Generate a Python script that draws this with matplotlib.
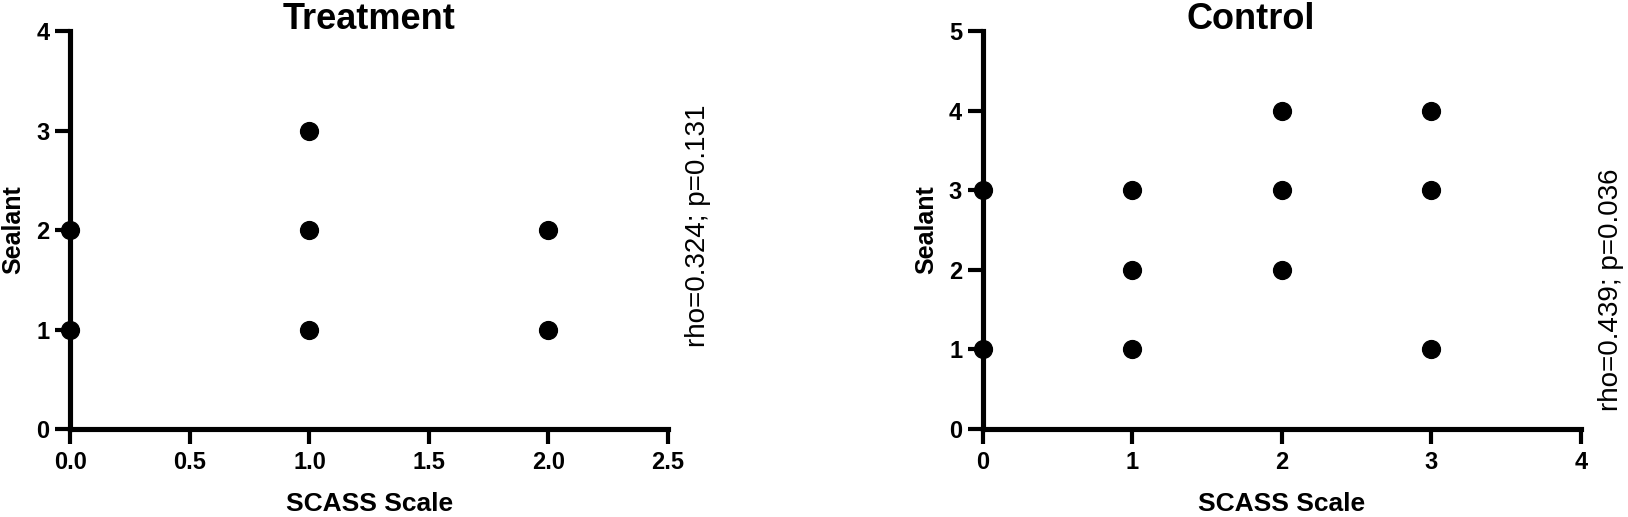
import matplotlib
matplotlib.use("Agg")
from matplotlib import pyplot as plt

# Treatment group
treat_x = [0, 0, 1, 1, 1, 2, 2]
treat_y = [1, 2, 1, 2, 3, 1, 2]
treat_xticks = [0.0, 0.5, 1.0, 1.5, 2.0, 2.5]
treat_yticks = [0, 1, 2, 3, 4]
treat_stat = "rho=0.324; p=0.131"

# Control group
ctrl_x = [0, 0, 1, 1, 1, 2, 2, 2, 3, 3, 3]
ctrl_y = [1, 3, 1, 2, 3, 2, 3, 4, 1, 3, 4]
ctrl_xticks = [0, 1, 2, 3, 4]
ctrl_yticks = [0, 1, 2, 3, 4, 5]
ctrl_stat = "rho=0.439; p=0.036"

plt.rcParams['font.family'] = ['Liberation Sans', 'DejaVu Sans']

fig = plt.figure(figsize=(16.28, 5.17), dpi=100)
ax1 = fig.add_axes([0.0433, 0.170, 0.367, 0.770])
ax2 = fig.add_axes([0.6038, 0.170, 0.3673, 0.770])


def panel(ax, x, y, xticks, yticks, title, stat, xfmt, title_x, stat_pos):
    ax.scatter(x, y, s=165, color='black', zorder=5, clip_on=False)
    ax.set_xlim(xticks[0], xticks[-1])
    ax.set_ylim(yticks[0], yticks[-1])
    ax.set_xticks(xticks)
    ax.set_yticks(yticks)
    ax.set_xticklabels([xfmt.format(v) for v in xticks])
    for side in ['top', 'right']:
        ax.spines[side].set_visible(False)
    for side in ['left', 'bottom']:
        ax.spines[side].set_linewidth(3.7)
    ax.tick_params(width=3, length=11, labelsize=17)
    ax.tick_params(axis='x', pad=5)
    ax.tick_params(axis='y', pad=4)
    for lab in ax.get_xticklabels() + ax.get_yticklabels():
        lab.set_fontweight('bold')
    ax.text(title_x, 1.005, title, transform=ax.transAxes, fontsize=26,
            fontweight='bold', ha='center', va='baseline')
    ax.set_xlabel('SCASS Scale', fontsize=19, fontweight='bold')
    ax.xaxis.set_label_coords(0.5, -0.158)
    ax.set_ylabel('Sealant', fontsize=18, fontweight='bold')
    ax.yaxis.set_label_coords(-0.075, 0.5)
    ax.text(stat_pos[0], stat_pos[1], stat, transform=ax.transAxes, rotation=90,
            fontsize=20, va='center', ha='center')


panel(ax1, treat_x, treat_y, treat_xticks, treat_yticks, 'Treatment', treat_stat,
      '{:.1f}', 0.5, (1.051, 0.51))
panel(ax2, ctrl_x, ctrl_y, ctrl_xticks, ctrl_yticks, 'Control', ctrl_stat,
      '{:d}', 0.448, (1.051, 0.35))

fig.savefig('out.png', dpi=100)
